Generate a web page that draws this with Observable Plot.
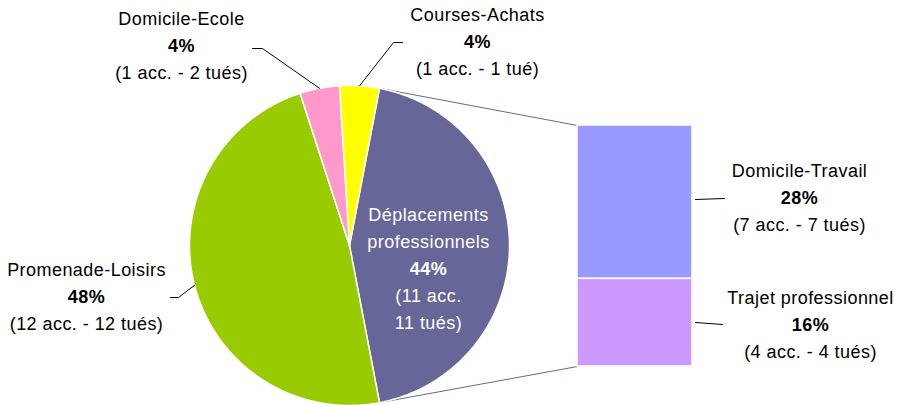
<!DOCTYPE html>
<html>
<head>
<meta charset="utf-8">
<script src="https://cdn.jsdelivr.net/npm/d3@7"></script>
<script src="https://cdn.jsdelivr.net/npm/@observablehq/plot@0.6"></script>
<style>
  html, body { margin: 0; padding: 0; background: #fff; }
  #chart { width: 905px; height: 405px; }
  #chart svg text { letter-spacing: 0.45px; }
</style>
</head>
<body>
<div id="chart"></div>
<script>
// ---- data ----
const categories = ["Déplacements professionnels", "Promenade-Loisirs", "Domicile-Ecole", "Courses-Achats"];
const shares = [44, 48, 4, 4];
const accidents = [11, 12, 1, 1];
const killed = [11, 12, 2, 1];
const colors = ["#666699", "#99CC00", "#FF99CC", "#FFFF00"];

const subCategories = ["Domicile-Travail", "Trajet professionnel"];
const subShares = [28, 16];
const subAccidents = [7, 4];
const subKilled = [7, 4];
const subColors = ["#9999FF", "#CC99FF"];

// ---- layout ----
const W = 905, H = 405;
const CX = 349, CY = 245, R = 160;
const BAR = {x0: 577, x1: 692, y0: 125, y1: 366};
const FONT = 18;

const rad = d => d * Math.PI / 180;
const pt = (deg, r = R) => [CX + r * Math.sin(rad(deg)), CY - r * Math.cos(rad(deg))];

// pie slices (clockwise from top); the first slice faces the bar
const startAngle = 90 - shares[0] / 100 * 180;
const slicePts = [];
const sliceInfo = [];
let a = startAngle;
shares.forEach((s, i) => {
  const a0 = a, a1 = a + s / 100 * 360;
  slicePts.push({k: i, x: CX, y: CY, c: colors[i]});
  const n = Math.max(2, Math.ceil((a1 - a0) / 0.5));
  for (let j = 0; j <= n; j++) {
    const [x, y] = pt(a0 + (a1 - a0) * j / n);
    slicePts.push({k: i, x, y, c: colors[i]});
  }
  slicePts.push({k: i, x: CX, y: CY, c: colors[i]});
  sliceInfo.push({a0, a1, mid: (a0 + a1) / 2});
  a = a1;
});

// bar of pie
const subTotal = d3.sum(subShares);
const barRows = [];
let yy = BAR.y0;
subShares.forEach((s, i) => {
  const h = s / subTotal * (BAR.y1 - BAR.y0);
  barRows.push({x1: BAR.x0, x2: BAR.x1, y1: yy, y2: yy + h, c: subColors[i]});
  yy += h;
});

// connectors from pie slice edges to bar
const pTop = pt(sliceInfo[0].a0), pBot = pt(sliceInfo[0].a1);
const connectors = [
  {x1: pTop[0], y1: pTop[1], x2: BAR.x0, y2: BAR.y0},
  {x1: pBot[0], y1: pBot[1], x2: BAR.x0, y2: BAR.y1}
];

// labels
const accTxt = (n, k) => `(${n} acc. - ${k} tué${k > 1 ? "s" : ""})`;
const labelSpecs = [
  {lines: ["Déplacements", "professionnels"], pct: shares[0], extra: [`(${accidents[0]} acc.`, `${killed[0]} tués)`], x: 428, y: 215, c: "white"},
  {lines: [categories[1]], pct: shares[1], extra: [accTxt(accidents[1], killed[1])], x: 86, y: 270, c: "black"},
  {lines: [categories[2]], pct: shares[2], extra: [accTxt(accidents[2], killed[2])], x: 181, y: 19, c: "black"},
  {lines: [categories[3]], pct: shares[3], extra: [accTxt(accidents[3], killed[3])], x: 477, y: 15, c: "black"},
  {lines: [subCategories[0]], pct: subShares[0], extra: [accTxt(subAccidents[0], subKilled[0])], x: 799, y: 171, c: "black"},
  {lines: [subCategories[1]], pct: subShares[1], extra: [accTxt(subAccidents[1], subKilled[1])], x: 810, y: 298, c: "black"}
];
const LH = 27;
const textRows = [];
labelSpecs.forEach(L => {
  let row = 0;
  L.lines.forEach(t => textRows.push({x: L.x, y: L.y + LH * row++, t, c: L.c, b: false}));
  textRows.push({x: L.x, y: L.y + LH * row++, t: `${L.pct}%`, c: L.c, b: true});
  L.extra.forEach(t => textRows.push({x: L.x, y: L.y + LH * row++, t, c: L.c, b: false}));
});

// leader lines
const mPro = pt(sliceInfo[1].mid), mEc = pt(sliceInfo[2].mid), mCo = pt(sliceInfo[3].mid);
const leaders = [
  {k: 0, x: 170, y: 297}, {k: 0, x: 178, y: 297}, {k: 0, x: mPro[0], y: mPro[1]},
  {k: 1, x: 252, y: 48}, {k: 1, x: 262, y: 48}, {k: 1, x: mEc[0], y: mEc[1]},
  {k: 2, x: 402, y: 42}, {k: 2, x: 393, y: 42}, {k: 2, x: mCo[0], y: mCo[1]},
  {k: 3, x: BAR.x1 + 3, y: 199}, {k: 3, x: 724, y: 198},
  {k: 4, x: BAR.x1 + 3, y: 322}, {k: 4, x: 722, y: 324}
];

const chart = Plot.plot({
  width: W, height: H,
  margin: 0,
  x: {domain: [0, W], range: [0, W], axis: null},
  y: {domain: [0, H], range: [0, H], axis: null},
  color: {type: "identity"},
  style: {fontFamily: "'Liberation Sans', Arial, sans-serif", fontSize: FONT + "px", background: "white", overflow: "visible"},
  marks: [
    Plot.link(connectors, {x1: "x1", y1: "y1", x2: "x2", y2: "y2", stroke: "#666699", strokeWidth: 1}),
    Plot.line(slicePts, {x: "x", y: "y", z: "k", fill: "c", stroke: "white", strokeWidth: 1.5, curve: "linear"}),
    Plot.rect(barRows, {x1: "x1", x2: "x2", y1: "y1", y2: "y2", fill: "c", stroke: "white", strokeWidth: 1.5}),
    Plot.line(leaders, {x: "x", y: "y", z: "k", stroke: "black", strokeWidth: 1}),
    Plot.text(textRows.filter(d => !d.b), {x: "x", y: "y", text: "t", fill: "c", fontSize: FONT, textAnchor: "middle"}),
    Plot.text(textRows.filter(d => d.b), {x: "x", y: "y", text: "t", fill: "c", fontSize: FONT, fontWeight: "bold", textAnchor: "middle"})
  ]
});
document.getElementById("chart").appendChild(chart);
</script>
</body>
</html>
